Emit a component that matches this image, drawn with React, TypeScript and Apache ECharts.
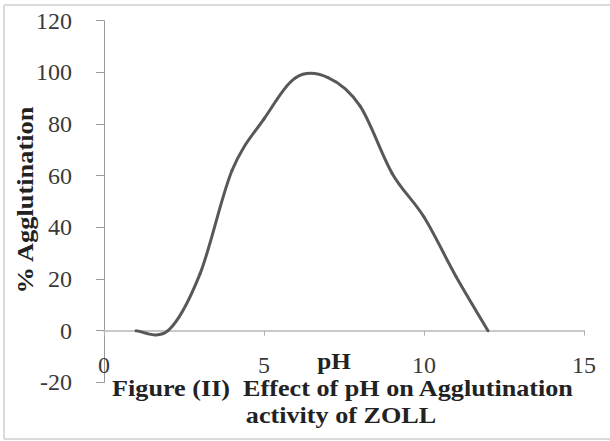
import React, { useEffect, useRef } from "react";
import * as echarts from "echarts";

const phValues = [1, 2, 3, 4, 5, 6, 7, 8, 9, 10, 11, 12];
const agglutination = [0, 0, 22, 62, 82, 98, 98, 87, 61, 44, 21, 0];
const yAxisName = "% Agglutination";
const xAxisName = "pH";
const titleLine1 = "Figure (II)  Effect of pH on Agglutination";
const titleLine2 = "activity of ZOLL";

const FONT = "'Liberation Serif', 'Times New Roman', serif";
const GRID_TOP = 20.7;
const GRID_BOTTOM_Y = 382.4;
const ZERO_Y = 330.7;

export default function App() {
  const ref = useRef<HTMLDivElement>(null);
  useEffect(() => {
    const chart = echarts.init(ref.current!, null, { renderer: "svg" });
    const data = phValues.map((p, i) => [p, agglutination[i]]);
    const n = data.length;
    chart.setOption({
      animation: false,
      backgroundColor: "#ffffff",
      grid: { left: 104, right: 26, top: GRID_TOP, bottom: 441 - GRID_BOTTOM_Y },
      xAxis: {
        type: "value",
        min: 0,
        max: 15,
        interval: 5,
        offset: -(GRID_BOTTOM_Y - ZERO_Y),
        axisLine: { onZero: false, lineStyle: { color: "#c8c8c8", width: 2 } },
        axisTick: { show: true, length: 5, lineStyle: { color: "#b0b0b0" } },
        axisLabel: { margin: 22, fontSize: 24, fontFamily: FONT, color: "#3a3a3a" },
        splitLine: { show: false },
      },
      yAxis: {
        type: "value",
        min: -20,
        max: 120,
        interval: 20,
        axisLine: { show: true, onZero: false, lineStyle: { color: "#9a9a9a", width: 1 } },
        axisTick: { show: true, length: 8, lineStyle: { color: "#9a9a9a" } },
        axisLabel: { margin: 32, fontSize: 24, fontFamily: FONT, color: "#3a3a3a" },
        splitLine: { show: false },
      },
      series: [
        {
          type: "custom",
          data,
          clip: false,
          renderItem: (params: any, api: any) => {
            const i = params.dataIndex;
            if (i >= n - 1) return null;
            const p0 = api.coord(data[Math.max(i - 1, 0)]);
            const p1 = api.coord(data[i]);
            const p2 = api.coord(data[i + 1]);
            const p3 = api.coord(data[Math.min(i + 2, n - 1)]);
            return {
              type: "bezierCurve",
              shape: {
                x1: p1[0],
                y1: p1[1],
                x2: p2[0],
                y2: p2[1],
                cpx1: p1[0] + (p2[0] - p0[0]) / 6,
                cpy1: p1[1] + (p2[1] - p0[1]) / 6,
                cpx2: p2[0] - (p3[0] - p1[0]) / 6,
                cpy2: p2[1] - (p3[1] - p1[1]) / 6,
              },
              style: { stroke: "#585858", lineWidth: 3, fill: "none", lineCap: "round" },
            };
          },
        },
      ],
      graphic: [
        { type: "line", shape: { x1: 4, y1: 5, x2: 4, y2: 439 }, style: { stroke: "#cfcfcf", lineWidth: 1.5 } },
        { type: "line", shape: { x1: 4, y1: 5, x2: 610, y2: 5 }, style: { stroke: "#cfcfcf", lineWidth: 1.5 } },
        { type: "line", shape: { x1: 4, y1: 439, x2: 610, y2: 439 }, style: { stroke: "#cfcfcf", lineWidth: 1.5 } },
        {
          type: "text",
          x: 25,
          y: 200,
          rotation: Math.PI / 2,
          scaleX: 1.1,
          style: {
            text: yAxisName,
            font: `bold 24px ${FONT}`,
            fill: "#222",
            textAlign: "center",
            textVerticalAlign: "middle",
          },
        },
        {
          type: "text",
          x: 334,
          y: 361,
          scaleX: 1.05,
          style: { text: xAxisName, font: `bold 24px ${FONT}`, fill: "#222", textAlign: "center", textVerticalAlign: "middle" },
        },
        {
          type: "text",
          x: 342.5,
          y: 388,
          scaleX: 1.09,
          style: { text: titleLine1, font: `bold 24px ${FONT}`, fill: "#222", textAlign: "center", textVerticalAlign: "middle" },
        },
        {
          type: "text",
          x: 341,
          y: 415,
          scaleX: 1.09,
          style: { text: titleLine2, font: `bold 24px ${FONT}`, fill: "#222", textAlign: "center", textVerticalAlign: "middle" },
        },
      ],
    });
    return () => chart.dispose();
  }, []);
  return <div ref={ref} style={{ position: "absolute", left: 0, top: 0, width: 610, height: 441 }} />;
}
